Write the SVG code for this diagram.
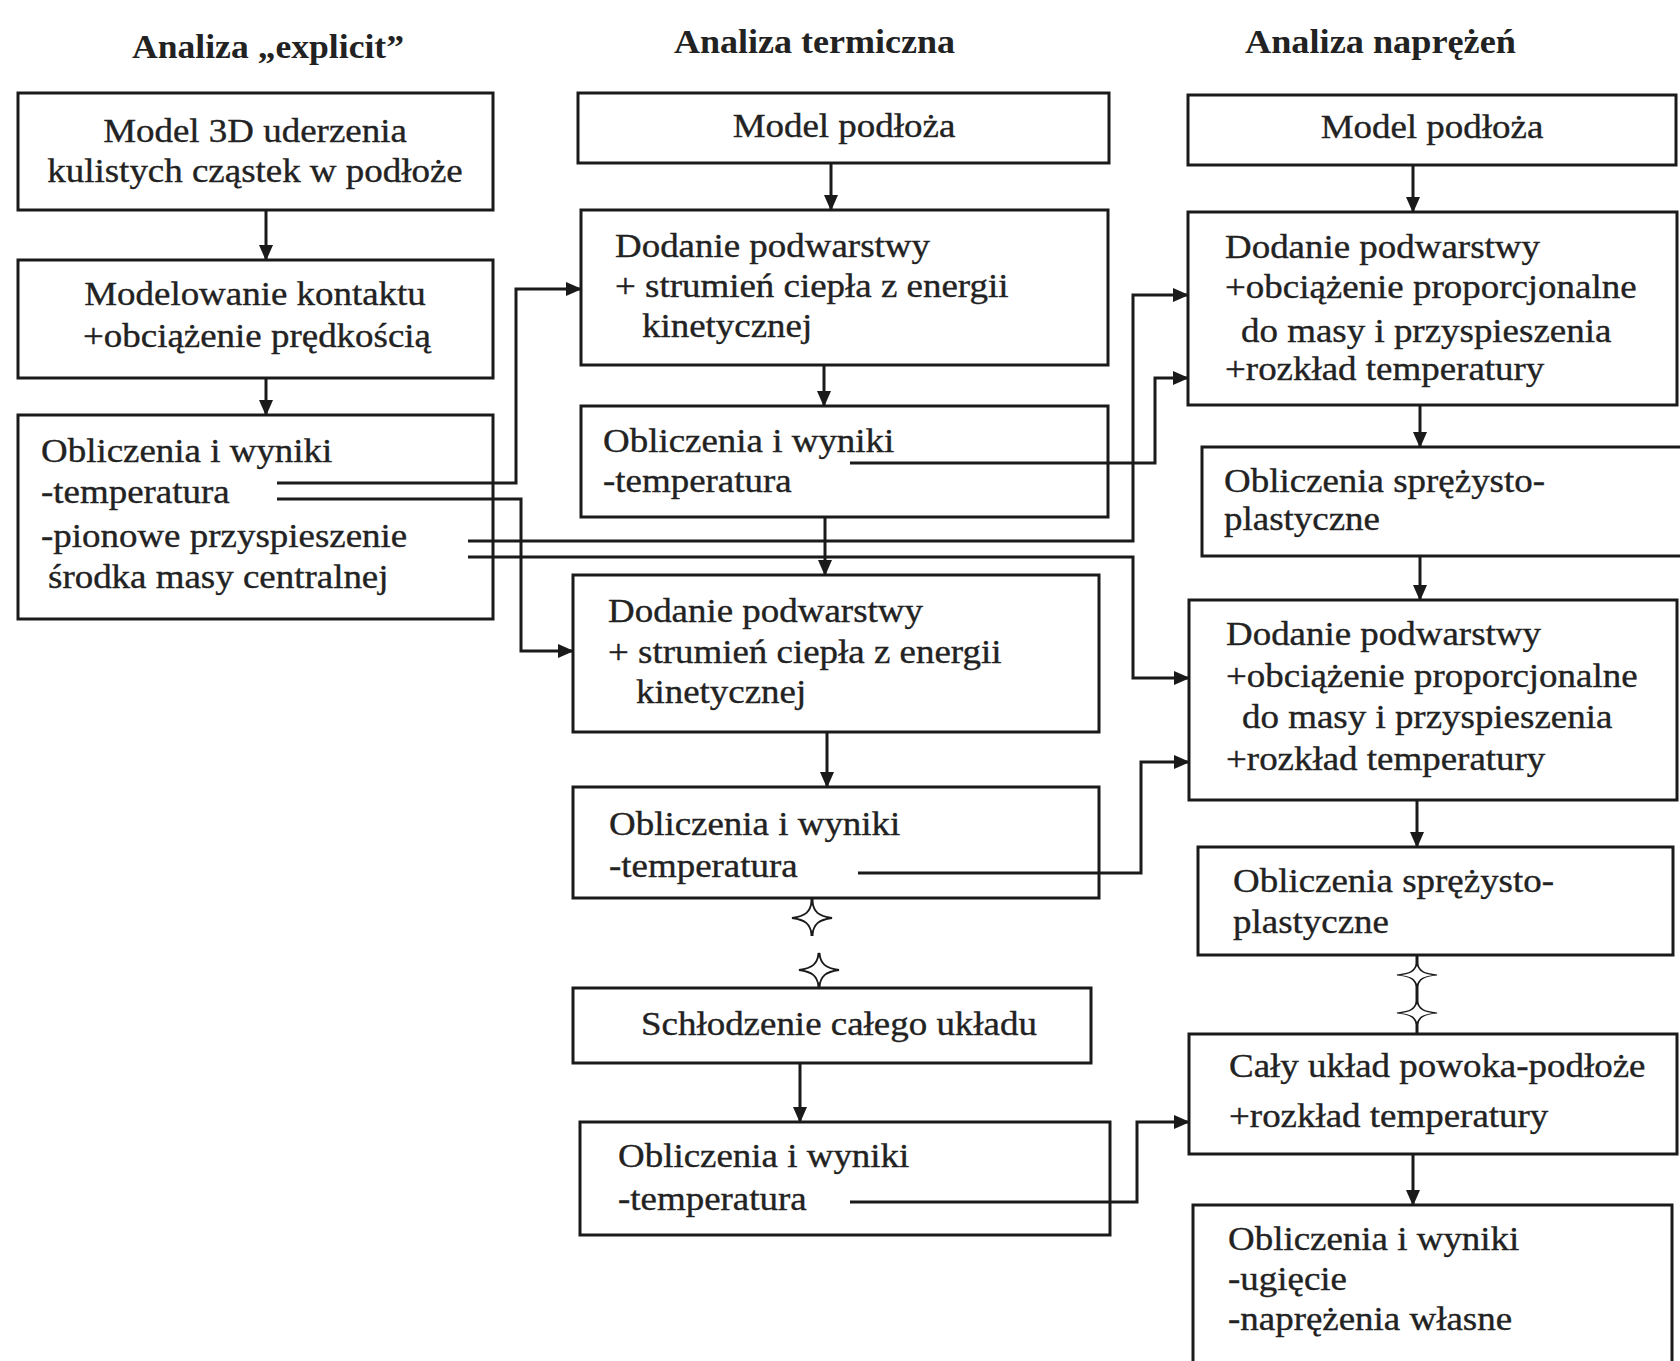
<svg xmlns="http://www.w3.org/2000/svg" width="1680" height="1361" viewBox="0 0 1680 1361">
<style>
.bg{fill:#ffffff}
.box{fill:#ffffff;stroke:#1a1a1a;stroke-width:3}
.t{font-family:"Liberation Serif","Times New Roman",serif;font-size:33px;fill:#222222;stroke:#222222;stroke-width:0.35}
.c{text-anchor:middle}
.h{font-family:"Liberation Serif","Times New Roman",serif;font-size:34px;font-weight:bold;fill:#222222}
.ln{fill:none;stroke:#1a1a1a;stroke-width:3}
.ar{fill:none;stroke:#1a1a1a;stroke-width:3;marker-end:url(#ah)}
.st{fill:#ffffff;stroke:#1a1a1a;stroke-width:1.8}
</style>
<defs>
<marker id="ah" viewBox="0 0 16 14" refX="15" refY="7" markerWidth="16" markerHeight="14" markerUnits="userSpaceOnUse" orient="auto">
<path d="M0,0 L16,7 L0,14 z" fill="#1a1a1a"/>
</marker>
<path id="star" d="M-20,0 C-6,-2 -2,-6 0,-17 C2,-6 6,-2 20,0 C6,2 2,6 0,17 C-2,6 -6,2 -20,0 Z"/>
</defs>
<rect class="bg" x="0" y="0" width="1680" height="1361"/>

<g id="titles">
<text class="h" x="132" y="58" textLength="272" lengthAdjust="spacingAndGlyphs">Analiza „explicit”</text>
<text class="h" x="674" y="53" textLength="281" lengthAdjust="spacingAndGlyphs">Analiza termiczna</text>
<text class="h" x="1245" y="53" textLength="271" lengthAdjust="spacingAndGlyphs">Analiza naprężeń</text>
</g>

<g id="E1">
<rect class="box" x="18" y="93" width="475" height="117"/>
<text class="t c" transform="matrix(1.12 0 0 1 255 142)">Model 3D uderzenia</text>
<text class="t c" transform="matrix(1.12 0 0 1 255 182)">kulistych cząstek w podłoże</text>
</g>
<g id="E2">
<rect class="box" x="18" y="260" width="475" height="118"/>
<text class="t c" transform="matrix(1.12 0 0 1 255 305)">Modelowanie kontaktu</text>
<text class="t c" transform="matrix(1.12 0 0 1 257 347)">+obciążenie prędkością</text>
</g>
<g id="E3">
<rect class="box" x="18" y="415" width="475" height="204"/>
<text class="t" transform="matrix(1.12 0 0 1 41 462)">Obliczenia i wyniki</text>
<text class="t" transform="matrix(1.12 0 0 1 41 503)">-temperatura</text>
<text class="t" transform="matrix(1.12 0 0 1 41 547)">-pionowe przyspieszenie</text>
<text class="t" transform="matrix(1.12 0 0 1 48 588)">środka masy centralnej</text>
</g>

<g id="T1">
<rect class="box" x="578" y="93" width="531" height="70"/>
<text class="t c" transform="matrix(1.12 0 0 1 844 137)">Model podłoża</text>
</g>
<g id="T2">
<rect class="box" x="581" y="210" width="527" height="155"/>
<text class="t" transform="matrix(1.12 0 0 1 615 257)">Dodanie podwarstwy</text>
<text class="t" transform="matrix(1.12 0 0 1 615 297)">+ strumień ciepła z energii</text>
<text class="t" transform="matrix(1.12 0 0 1 642 337)">kinetycznej</text>
</g>
<g id="T3">
<rect class="box" x="581" y="406" width="527" height="111"/>
<text class="t" transform="matrix(1.12 0 0 1 603 452)">Obliczenia i wyniki</text>
<text class="t" transform="matrix(1.12 0 0 1 603 492)">-temperatura</text>
</g>
<g id="T4">
<rect class="box" x="573" y="575" width="526" height="157"/>
<text class="t" transform="matrix(1.12 0 0 1 608 622)">Dodanie podwarstwy</text>
<text class="t" transform="matrix(1.12 0 0 1 608 663)">+ strumień ciepła z energii</text>
<text class="t" transform="matrix(1.12 0 0 1 636 703)">kinetycznej</text>
</g>
<g id="T5">
<rect class="box" x="573" y="787" width="526" height="111"/>
<text class="t" transform="matrix(1.12 0 0 1 609 835)">Obliczenia i wyniki</text>
<text class="t" transform="matrix(1.12 0 0 1 609 877)">-temperatura</text>
</g>
<g id="T6">
<rect class="box" x="573" y="988" width="518" height="75"/>
<text class="t" transform="matrix(1.12 0 0 1 641 1035)">Schłodzenie całego układu</text>
</g>
<g id="T7">
<rect class="box" x="580" y="1122" width="530" height="113"/>
<text class="t" transform="matrix(1.12 0 0 1 618 1167)">Obliczenia i wyniki</text>
<text class="t" transform="matrix(1.12 0 0 1 618 1210)">-temperatura</text>
</g>

<g id="S1">
<rect class="box" x="1188" y="95" width="488" height="70"/>
<text class="t c" transform="matrix(1.12 0 0 1 1432 138)">Model podłoża</text>
</g>
<g id="S2">
<rect class="box" x="1188" y="212" width="489" height="193"/>
<text class="t" transform="matrix(1.12 0 0 1 1225 258)">Dodanie podwarstwy</text>
<text class="t" transform="matrix(1.12 0 0 1 1225 298)">+obciążenie proporcjonalne</text>
<text class="t" transform="matrix(1.12 0 0 1 1241 342)">do masy i przyspieszenia</text>
<text class="t" transform="matrix(1.12 0 0 1 1225 380)">+rozkład temperatury</text>
</g>
<g id="S3">
<rect class="box" x="1202" y="447" width="490" height="109"/>
<text class="t" transform="matrix(1.12 0 0 1 1224 492)">Obliczenia sprężysto-</text>
<text class="t" transform="matrix(1.12 0 0 1 1224 530)">plastyczne</text>
</g>
<g id="S4">
<rect class="box" x="1189" y="600" width="488" height="200"/>
<text class="t" transform="matrix(1.12 0 0 1 1226 645)">Dodanie podwarstwy</text>
<text class="t" transform="matrix(1.12 0 0 1 1226 687)">+obciążenie proporcjonalne</text>
<text class="t" transform="matrix(1.12 0 0 1 1242 728)">do masy i przyspieszenia</text>
<text class="t" transform="matrix(1.12 0 0 1 1226 770)">+rozkład temperatury</text>
</g>
<g id="S5">
<rect class="box" x="1198" y="847" width="475" height="108"/>
<text class="t" transform="matrix(1.12 0 0 1 1233 892)">Obliczenia sprężysto-</text>
<text class="t" transform="matrix(1.12 0 0 1 1233 933)">plastyczne</text>
</g>
<g id="S6">
<rect class="box" x="1189" y="1034" width="488" height="120"/>
<text class="t" transform="matrix(1.12 0 0 1 1229 1077)">Cały układ powoka-podłoże</text>
<text class="t" transform="matrix(1.12 0 0 1 1229 1127)">+rozkład temperatury</text>
</g>
<g id="S7">
<rect class="box" x="1193" y="1205" width="479" height="180"/>
<text class="t" transform="matrix(1.12 0 0 1 1228 1250)">Obliczenia i wyniki</text>
<text class="t" transform="matrix(1.12 0 0 1 1228 1290)">-ugięcie</text>
<text class="t" transform="matrix(1.12 0 0 1 1228 1330)">-naprężenia własne</text>
</g>

<g id="connectors">
<path class="ar" d="M266,210 V260"/>
<path class="ar" d="M266,378 V415"/>
<path class="ar" d="M831,163 V210"/>
<path class="ar" d="M824,365 V406"/>
<path class="ar" d="M825,517 V575"/>
<path class="ar" d="M827,732 V787"/>
<path class="ln" d="M812,898 V936"/>
<path class="ln" d="M819,953 V988"/>
<path class="ar" d="M800,1063 V1122"/>
<path class="ar" d="M1413,165 V212"/>
<path class="ar" d="M1420,405 V447"/>
<path class="ar" d="M1420,556 V600"/>
<path class="ar" d="M1417,800 V847"/>
<path class="ln" d="M1417,955 V1034"/>
<path class="ar" d="M1413,1154 V1205"/>
<path class="ar" d="M277,483 H516 V289 H581"/>
<path class="ar" d="M277,499 H521 V651 H573"/>
<path class="ar" d="M468,541 H1133 V295 H1188"/>
<path class="ar" d="M468,557 H1133 V678 H1189"/>
<path class="ar" d="M850,463 H1155 V378 H1188"/>
<path class="ar" d="M858,873 H1141 V762 H1189"/>
<path class="ar" d="M850,1202 H1137 V1122 H1189"/>
<use href="#star" class="st" transform="translate(812,918)"/>
<use href="#star" class="st" transform="translate(819,970)"/>
<use href="#star" class="st" transform="translate(1417,975) scale(1,0.7)"/>
<use href="#star" class="st" transform="translate(1417,1013) scale(1,0.7)"/>
</g>
</svg>
